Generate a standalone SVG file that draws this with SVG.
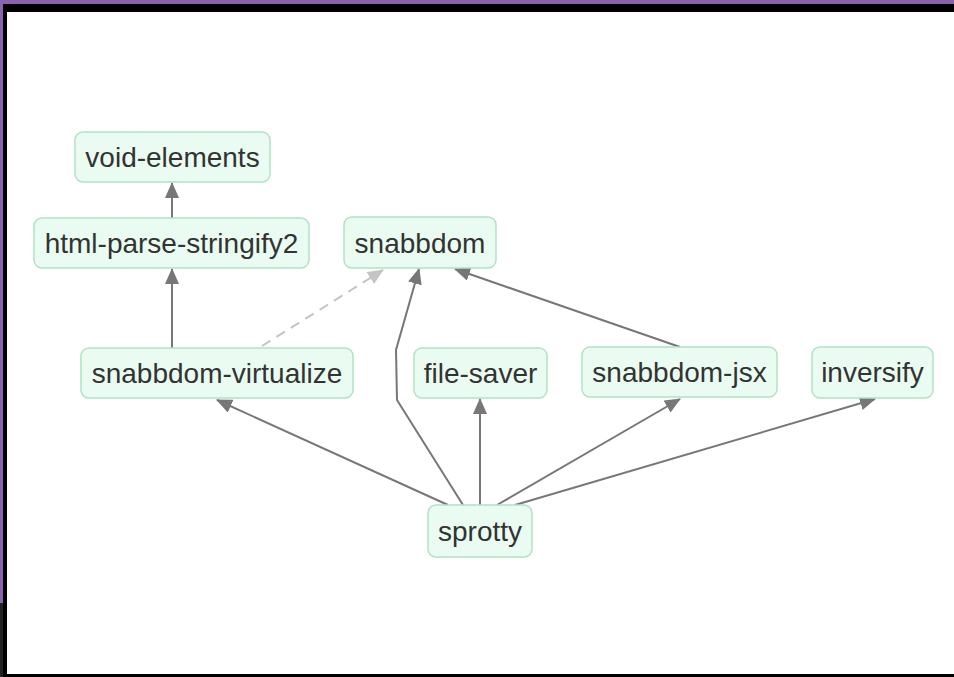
<svg xmlns="http://www.w3.org/2000/svg" width="954" height="677" viewBox="0 0 954 677">
<defs>
<style>
.node rect{fill:#eafcf1;stroke:#afe3c3;stroke-width:1.5}
.node text{font-family:"Liberation Sans",Arial,sans-serif;font-size:28px;fill:#333;text-anchor:middle}
.edge{fill:none;stroke:#777;stroke-width:2}
.dash{fill:none;stroke:#c4c4c4;stroke-width:2;stroke-dasharray:10,7}
</style>
<marker id="ah" markerUnits="userSpaceOnUse" markerWidth="16" markerHeight="14" viewBox="0 0 16 14" refX="15" refY="7" orient="auto">
<path d="M0,0 L16,7 L0,14 z" fill="#777"/>
</marker>
<marker id="ahl" markerUnits="userSpaceOnUse" markerWidth="16" markerHeight="14" viewBox="0 0 16 14" refX="15" refY="7" orient="auto">
<path d="M0,0 L16,7 L0,14 z" fill="#c4c4c4"/>
</marker>
</defs>
<rect x="0" y="0" width="954" height="677" fill="#222"/>
<rect x="0" y="0" width="954" height="603" fill="#8a63b0"/>
<rect x="3" y="4" width="951" height="673" fill="#000"/>
<rect x="7" y="12" width="947" height="662" fill="#fff"/>
<g id="edges">
<path class="edge" marker-end="url(#ah)" d="M172,218 L172,183"/>
<path class="edge" marker-end="url(#ah)" d="M172,348 L172,269"/>
<path class="dash" marker-end="url(#ahl)" d="M262,346 L383,270"/>
<path class="edge" marker-end="url(#ah)" d="M463,505 L397,400 L396,350 L419,269"/>
<path class="edge" marker-end="url(#ah)" d="M680,347 L455,269"/>
<path class="edge" marker-end="url(#ah)" d="M448,505 L217,400"/>
<path class="edge" marker-end="url(#ah)" d="M480,505 L480,399"/>
<path class="edge" marker-end="url(#ah)" d="M497,505 L680,399"/>
<path class="edge" marker-end="url(#ah)" d="M515,505 L875,399"/>
</g>
<g id="void-elements" class="node"><rect x="75" y="132" width="195" height="50" rx="8"/><text x="172.5" y="167">void-elements</text></g>
<g id="html-parse-stringify2" class="node"><rect x="34" y="218" width="275" height="50" rx="8"/><text x="171.5" y="253">html-parse-stringify2</text></g>
<g id="snabbdom" class="node"><rect x="344" y="217" width="152" height="51" rx="8"/><text x="420" y="253">snabbdom</text></g>
<g id="snabbdom-virtualize" class="node"><rect x="81" y="348" width="272" height="50" rx="8"/><text x="217" y="383">snabbdom-virtualize</text></g>
<g id="file-saver" class="node"><rect x="414" y="348" width="133" height="50" rx="8"/><text x="480.5" y="383">file-saver</text></g>
<g id="snabbdom-jsx" class="node"><rect x="582" y="347" width="195" height="50" rx="8"/><text x="679.5" y="382">snabbdom-jsx</text></g>
<g id="inversify" class="node"><rect x="812" y="347" width="121" height="51" rx="8"/><text x="872.5" y="382">inversify</text></g>
<g id="sprotty" class="node"><rect x="428" y="505" width="104" height="52" rx="8"/><text x="480" y="541">sprotty</text></g>
</svg>
